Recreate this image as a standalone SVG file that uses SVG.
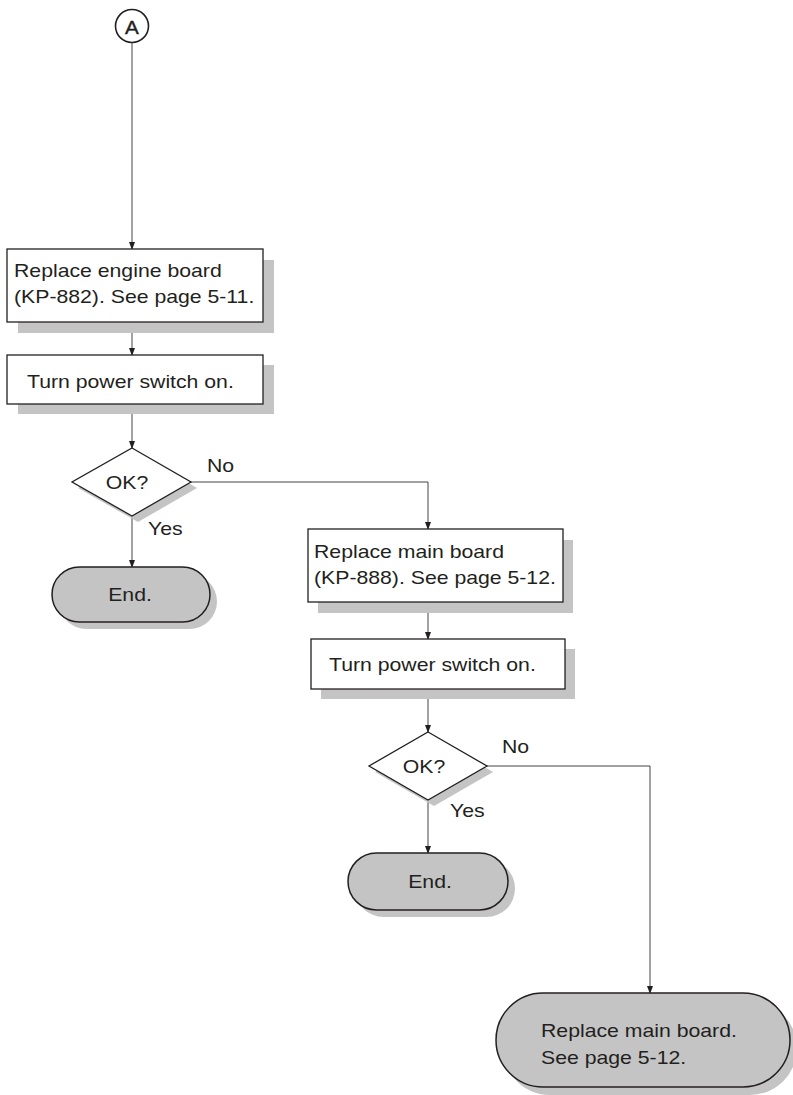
<svg xmlns="http://www.w3.org/2000/svg" width="793" height="1095" viewBox="0 0 793 1095">
<style>
.t{font-family:"Liberation Sans",Arial,sans-serif;font-size:18px;fill:#231f20}
.box{fill:#fff;stroke:#231f20;stroke-width:1.3}
.term{fill:#c4c4c4;stroke:#231f20;stroke-width:1.5}
.sh{fill:#c4c4c4}
.ln{fill:none;stroke:#444;stroke-width:1}
</style>
<defs>
<marker id="ah" markerWidth="8" markerHeight="10" refX="7" refY="3" orient="auto" markerUnits="userSpaceOnUse" viewBox="0 0 8 6">
<path d="M0,0 L8,3 L0,6 Z" fill="#231f20"/>
</marker>
</defs>
<g id="connectors">
<line class="ln" x1="132" y1="43" x2="132" y2="249" marker-end="url(#ah)"/>
<line class="ln" x1="132" y1="322" x2="132" y2="355" marker-end="url(#ah)"/>
<line class="ln" x1="132" y1="404" x2="132" y2="448" marker-end="url(#ah)"/>
<line class="ln" x1="132" y1="516" x2="132" y2="567" marker-end="url(#ah)"/>
<polyline class="ln" points="191,482 428,482 428,529" marker-end="url(#ah)"/>
<line class="ln" x1="428" y1="602" x2="428" y2="639" marker-end="url(#ah)"/>
<line class="ln" x1="428" y1="689" x2="428" y2="732" marker-end="url(#ah)"/>
<line class="ln" x1="428" y1="800" x2="428" y2="853" marker-end="url(#ah)"/>
<polyline class="ln" points="487,766 650,766 650,993" marker-end="url(#ah)"/>
</g>
<g id="startA">
<circle cx="132" cy="26" r="16.5" fill="#fff" stroke="#231f20" stroke-width="1.6"/>
<text class="t" transform="translate(132,34) scale(1.15,1)" text-anchor="middle" font-size="22" stroke="#231f20" stroke-width="0.4">A</text>
</g>
<g id="box1">
<rect class="sh" x="18" y="260" width="256" height="73"/>
<rect class="box" x="7" y="249" width="256" height="73"/>
<text class="t" transform="translate(14,277) scale(1.18,1)">Replace engine board</text>
<text class="t" transform="translate(14,303) scale(1.18,1)">(KP-882). See page 5-11.</text>
</g>
<g id="box2">
<rect class="sh" x="18" y="365" width="256" height="49"/>
<rect class="box" x="7" y="355" width="256" height="49"/>
<text class="t" transform="translate(27,388) scale(1.18,1)">Turn power switch on.</text>
</g>
<g id="dec1">
<polygon class="sh" points="138,454 197,488 138,522 78,488"/>
<polygon class="box" points="132,448 191,482 132,516 72,482"/>
<text class="t" transform="translate(127,489) scale(1.18,1)" text-anchor="middle">OK?</text>
<text class="t" transform="translate(207,472) scale(1.18,1)">No</text>
<text class="t" transform="translate(148,535) scale(1.18,1)">Yes</text>
</g>
<g id="end1">
<rect class="sh" x="59" y="574" width="158" height="55" rx="27.5"/>
<rect class="term" x="52" y="567" width="158" height="55" rx="27.5"/>
<text class="t" transform="translate(130,601) scale(1.18,1)" text-anchor="middle">End.</text>
</g>
<g id="box3">
<rect class="sh" x="318" y="540" width="255" height="73"/>
<rect class="box" x="308" y="529" width="255" height="73"/>
<text class="t" transform="translate(314,558) scale(1.18,1)">Replace main board</text>
<text class="t" transform="translate(314,584) scale(1.18,1)">(KP-888). See page 5-12.</text>
</g>
<g id="box4">
<rect class="sh" x="321" y="649" width="254" height="50"/>
<rect class="box" x="311" y="639" width="254" height="50"/>
<text class="t" transform="translate(329,671) scale(1.18,1)">Turn power switch on.</text>
</g>
<g id="dec2">
<polygon class="sh" points="434,738 493,772 434,806 375,772"/>
<polygon class="box" points="428,732 487,766 428,800 369,766"/>
<text class="t" transform="translate(424,773) scale(1.18,1)" text-anchor="middle">OK?</text>
<text class="t" transform="translate(502,753) scale(1.18,1)">No</text>
<text class="t" transform="translate(450,817) scale(1.18,1)">Yes</text>
</g>
<g id="end2">
<rect class="sh" x="355" y="860" width="160" height="57" rx="28.5"/>
<rect class="term" x="348" y="853" width="160" height="57" rx="28.5"/>
<text class="t" transform="translate(430,888) scale(1.18,1)" text-anchor="middle">End.</text>
</g>
<g id="end3">
<rect class="sh" x="503" y="1001" width="294" height="94" rx="47"/>
<rect class="term" x="496" y="993" width="294" height="94" rx="47"/>
<text class="t" transform="translate(541,1037) scale(1.18,1)">Replace main board.</text>
<text class="t" transform="translate(541,1064) scale(1.18,1)">See page 5-12.</text>
</g>
</svg>
